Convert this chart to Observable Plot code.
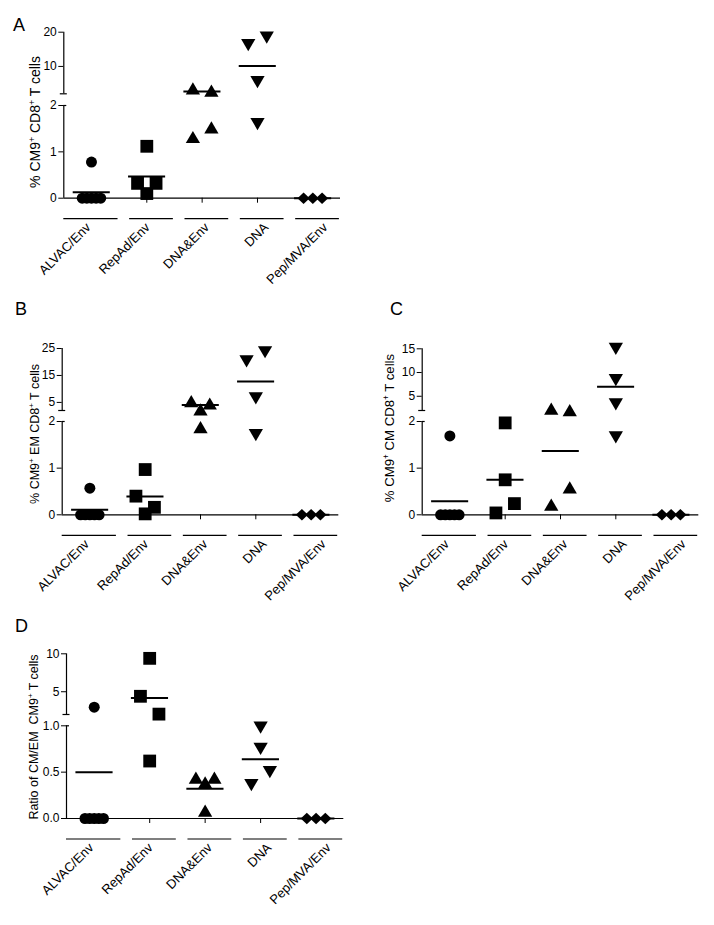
<!DOCTYPE html>
<html><head><meta charset="utf-8">
<script src="https://cdn.jsdelivr.net/npm/d3@7"></script>
<script src="https://cdn.jsdelivr.net/npm/@observablehq/plot@0.6"></script>
<style>
body{margin:0;background:#fff}
#fig{position:relative;width:714px;height:925px;background:#fff;font-family:"Liberation Sans",Arial,Helvetica,sans-serif;color:#000;overflow:hidden}
.layer{position:absolute;left:0;top:0}
.letter{position:absolute;font-size:18px;line-height:18px}
.ytitle{position:absolute;white-space:nowrap;transform:translate(-50%,-50%) rotate(-90deg);line-height:1}
.ytitle sup{font-size:0.62em;vertical-align:0.6em;line-height:0}
</style></head><body><div id="fig"></div>
<script>
const categories = ["ALVAC/Env", "RepAd/Env", "DNA&Env", "DNA", "Pep/MVA/Env"];

// Panel A: % CM9+ CD8+ T cells
const valuesA = [[0.78, 0, 0, 0, 0, 0], [1.12, 0.32, 0.1, 0.32], [3.6, 2.94, 1.32, 1.53], [16.2, 18.4, 5.4, 1.6], [0, 0, 0]];
const meansA = [0.13, 0.47, 2.65, 10.1, 0];
const ticksA = [0, 1, 2, 10, 20];
const breakA = [0, 2, 2, 20];

// Panel B: % CM9+ EM CD8+ T cells
const valuesB = [[0.57, 0, 0, 0, 0, 0], [0.97, 0.40, 0.02, 0.16], [5.5, 2.43, 4.6, 1.88], [20.2, 23.6, 6.5, 1.71], [0, 0, 0]];
const meansB = [0.107, 0.39, 4.0, 12.8, 0];
const ticksB = [0, 1, 2, 5, 15, 25];
const breakB = [0, 2, 2, 25];

// Panel C: % CM9+ CM CD8+ T cells
const valuesC = [[1.69, 0, 0, 0, 0, 0], [1.97, 0.75, 0.04, 0.24], [2.38, 2.1, 0.22, 0.59], [15.0, 8.4, 3.3, 1.66], [0, 0, 0]];
const meansC = [0.29, 0.75, 1.37, 7.0, 0];
const ticksC = [0, 1, 2, 5, 10, 15];
const breakC = [0, 2, 2, 15];

// Panel D: Ratio of CM/EM CM9+ T cells
const valuesD = [[2.97, 0, 0, 0, 0, 0], [9.4, 4.4, 2.05, 0.62], [0.44, 0.39, 0.44, 0.086], [0.98, 0.75, 0.36, 0.50], [0, 0, 0]];
const meansD = [0.50, 4.16, 0.32, 0.64, 0];
const ticksD = [0, 0.5, 1, 5, 10];
const breakD = [0, 1, 2, 10];

// ---- layout (page pixels) ----
const layouts = {
  A: {left: 63.3, right: 340, y: [197.7, 105, 93.3, 31.7], letter: [13, 16], title: [35, 121.5], titleSize: 14},
  B: {left: 61.7, right: 338.3, y: [514.3, 421, 410, 348], letter: [15, 300], title: [35, 434], titleSize: 12.5},
  C: {left: 421.7, right: 698.3, y: [514.3, 421, 410, 348.3], letter: [390, 300], title: [390, 428], titleSize: 13.2},
  D: {left: 66, right: 343.3, y: [818, 725.3, 714, 653.3], letter: [15, 617], title: [33.5, 737], titleSize: 12.5}
};

// ---- symbols (bbox-centred, size = pi r^2) ----
const rad = s => Math.sqrt(s / Math.PI);
const symCircle = {draw(c, s) { const r = rad(s); c.moveTo(r, 0); c.arc(0, 0, r, 0, 2 * Math.PI); }};
const symSquare = {draw(c, s) { const r = rad(s); c.rect(-r, -r, 2 * r, 2 * r); }};
const symUp = {draw(c, s) { const r = rad(s); c.moveTo(0, -r); c.lineTo(1.17 * r, r); c.lineTo(-1.17 * r, r); c.closePath(); }};
const symDown = {draw(c, s) { const r = rad(s); c.moveTo(0, r); c.lineTo(1.17 * r, -r); c.lineTo(-1.17 * r, -r); c.closePath(); }};
const symDiamond = {draw(c, s) { const r = rad(s); c.moveTo(0, -r); c.lineTo(1.05 * r, 0); c.lineTo(0, r); c.lineTo(-1.05 * r, 0); c.closePath(); }};
const groupSymbols = [symCircle, symSquare, symUp, symDown, symDiamond];
const groupR = [5.5, 6.4, 6.1, 6.1, 5.8];

function drawPanel(values, means, ticks, brk, L, fmt) {
  const W = 714, H = 925;
  const ppu = (L.right - L.left) / 5;
  const dom = [brk[0], brk[1], brk[1] === brk[2] ? brk[2] + 1e-6 : brk[2], brk[3]];
  const yPix = d3.scaleLinear().domain(dom).range(L.y);
  // column-scatter spreading of overlapping points
  const groups = values.map((vals, i) => {
    const items = vals.map((v, k) => ({cat: i, v, k, py: yPix(v)}));
    const sorted = items.slice().sort((a, b) => a.py - b.py || a.k - b.k);
    const clusters = [];
    for (const it of sorted) {
      const c = clusters[clusters.length - 1];
      if (c && it.py - c[0].py < 19) c.push(it); else clusters.push([it]);
    }
    for (const c of clusters) {
      c.sort((a, b) => a.k - b.k);
      const n = c.length, spread = 18.5;
      c.forEach((it, j) => { it.x = i + (n === 1 ? 0 : (j / (n - 1) - 0.5) * spread / ppu); });
    }
    return items;
  });

  const marks = [
    // broken y axis line
    Plot.ruleX([[dom[0], dom[1]], [dom[2], dom[3]]], {x: () => -0.5, y1: d => d[0], y2: d => d[1], strokeWidth: 1.2}),
    Plot.ruleY([dom[2]], {x1: -0.5 - 3.5 / ppu, x2: -0.5 + 3.5 / ppu, strokeWidth: 1.2}),
    Plot.ruleY([dom[1]], {x1: -0.5, x2: -0.5 + 3 / ppu, strokeWidth: 1.2}),
    // x axis line
    Plot.ruleY([0], {strokeWidth: 1.2}),
    // group underlines
    Plot.ruleY(categories, {y: () => 0, x1: (d, i) => i === 0 ? -0.5 : i - 0.31, x2: (d, i) => i + 0.48, dy: 20.5, strokeWidth: 1.2}),
    // rotated category labels
    Plot.text(categories, {x: (d, i) => i * 1.07, frameAnchor: "bottom", text: d => d, rotate: -45, textAnchor: "end", dy: 30, fontSize: 13}),
    // points
    ...groups.map((g, i) => Plot.dot(g, {x: "x", y: "v", symbol: groupSymbols[i], r: groupR[i], fill: "black", stroke: "none"})),
    // mean lines
    Plot.ruleY(means, {y: d => d, x1: (d, i) => i - 0.33, x2: (d, i) => i + 0.34, strokeWidth: 2})
  ];

  return Plot.plot({
    width: W, height: H,
    marginLeft: L.left, marginRight: W - L.right, marginTop: L.y[3], marginBottom: H - L.y[0],
    style: {background: "transparent", color: "black", fontFamily: "'Liberation Sans', Arial, sans-serif", fontSize: "12px", overflow: "visible"},
    x: {type: "linear", domain: [-0.5, 4.5], ticks: [0, 1, 2, 3, 4], tickFormat: () => "", tickSize: 5, label: null},
    y: {type: "linear", domain: dom, range: L.y, ticks: ticks, tickFormat: fmt, tickSize: 5, tickPadding: 2, label: null},
    marks
  });
}

const fig = document.getElementById("fig");
function addPanel(key, values, means, ticks, brk, title, fmt = d => String(d)) {
  const L = layouts[key];
  const layer = document.createElement("div");
  layer.className = "layer";
  layer.appendChild(drawPanel(values, means, ticks, brk, L, fmt));
  fig.appendChild(layer);
  const letter = document.createElement("div");
  letter.className = "letter";
  letter.style.left = L.letter[0] + "px";
  letter.style.top = L.letter[1] + "px";
  letter.textContent = key;
  fig.appendChild(letter);
  const t = document.createElement("div");
  t.className = "ytitle";
  t.style.left = L.title[0] + "px";
  t.style.top = L.title[1] + "px";
  t.style.fontSize = L.titleSize + "px";
  t.innerHTML = title;
  fig.appendChild(t);
}

addPanel("A", valuesA, meansA, ticksA, breakA, "% CM9<sup>+</sup> CD8<sup>+</sup> T cells");
addPanel("B", valuesB, meansB, ticksB, breakB, "% CM9<sup>+</sup> EM CD8<sup>+</sup> T cells");
addPanel("C", valuesC, meansC, ticksC, breakC, "% CM9<sup>+</sup> CM CD8<sup>+</sup> T cells");
addPanel("D", valuesD, meansD, ticksD, breakD, "Ratio of CM/EM&nbsp; CM9<sup>+</sup> T cells", d => d <= 1 ? d.toFixed(1) : String(d));
</script>
</body></html>
